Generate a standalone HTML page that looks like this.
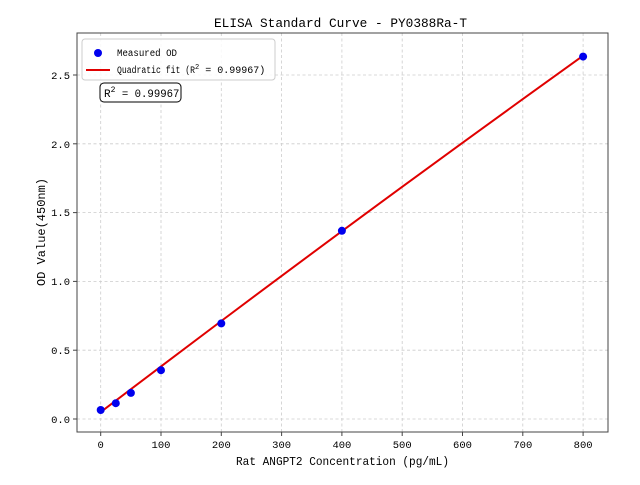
<!DOCTYPE html>
<html><head><meta charset="utf-8"><style>
body{margin:0;background:#fff}
text{font-family:"Liberation Mono","WenQuanYi Zen Hei",monospace;fill:#000}
</style></head><body>
<svg width="640" height="480" xmlns="http://www.w3.org/2000/svg">
<rect width="640" height="480" fill="#fff"/>
<g stroke="#ccc" stroke-width="0.8" stroke-dasharray="3,2.5">
<line x1="100.7" y1="33" x2="100.7" y2="432"/><line x1="161" y1="33" x2="161" y2="432"/>
<line x1="221.3" y1="33" x2="221.3" y2="432"/><line x1="281.6" y1="33" x2="281.6" y2="432"/>
<line x1="341.9" y1="33" x2="341.9" y2="432"/><line x1="402.2" y1="33" x2="402.2" y2="432"/>
<line x1="462.5" y1="33" x2="462.5" y2="432"/><line x1="522.8" y1="33" x2="522.8" y2="432"/>
<line x1="583.1" y1="33" x2="583.1" y2="432"/>
<line x1="77" y1="419" x2="608" y2="419"/><line x1="77" y1="350.2" x2="608" y2="350.2"/>
<line x1="77" y1="281.4" x2="608" y2="281.4"/><line x1="77" y1="212.6" x2="608" y2="212.6"/>
<line x1="77" y1="143.8" x2="608" y2="143.8"/><line x1="77" y1="75" x2="608" y2="75"/>
</g>
<rect x="77" y="33" width="531" height="399" fill="none" stroke="#444" stroke-width="1"/>
<g stroke="#444">
<line x1="100.7" y1="432" x2="100.7" y2="436"/><line x1="161" y1="432" x2="161" y2="436"/>
<line x1="221.3" y1="432" x2="221.3" y2="436"/><line x1="281.6" y1="432" x2="281.6" y2="436"/>
<line x1="341.9" y1="432" x2="341.9" y2="436"/><line x1="402.2" y1="432" x2="402.2" y2="436"/>
<line x1="462.5" y1="432" x2="462.5" y2="436"/><line x1="522.8" y1="432" x2="522.8" y2="436"/>
<line x1="583.1" y1="432" x2="583.1" y2="436"/>
<line x1="73" y1="419" x2="77" y2="419"/><line x1="73" y1="350.2" x2="77" y2="350.2"/>
<line x1="73" y1="281.4" x2="77" y2="281.4"/><line x1="73" y1="212.6" x2="77" y2="212.6"/>
<line x1="73" y1="143.8" x2="77" y2="143.8"/><line x1="73" y1="75" x2="77" y2="75"/>
</g>
<g font-size="10.5" text-anchor="middle">
<text x="100.7" y="448">0</text><text x="161" y="448">100</text><text x="221.3" y="448">200</text>
<text x="281.6" y="448">300</text><text x="341.9" y="448">400</text><text x="402.2" y="448">500</text>
<text x="462.5" y="448">600</text><text x="522.8" y="448">700</text><text x="583.1" y="448">800</text>
</g>
<g font-size="10.5" text-anchor="end">
<text x="70" y="423">0.0</text><text x="70" y="354">0.5</text><text x="70" y="285">1.0</text>
<text x="70" y="216">1.5</text><text x="70" y="148">2.0</text><text x="70" y="79">2.5</text>
</g>
<text x="236" y="465" font-size="12" textLength="213" lengthAdjust="spacingAndGlyphs">Rat ANGPT2 Concentration (pg/mL)</text>
<text transform="translate(45,232) rotate(-90)" font-size="12" text-anchor="middle">OD Value(450nm)</text>
<text x="214" y="27" font-size="13" textLength="253" lengthAdjust="spacingAndGlyphs">ELISA Standard Curve - PY0388Ra-T</text>
<polyline fill="none" stroke="#e00000" stroke-width="2" points="100.7,412.1 161,366.4 221.3,321 281.6,275.9 341.9,231.2 402.2,186.8 462.5,142.8 522.8,99.1 583.1,55.7"/>
<g fill="#0000ee">
<circle cx="100.7" cy="410" r="4"/><circle cx="115.8" cy="403.2" r="4"/><circle cx="130.9" cy="392.9" r="4"/>
<circle cx="161" cy="370.2" r="4"/><circle cx="221.3" cy="323.4" r="4"/><circle cx="341.9" cy="230.8" r="4"/>
<circle cx="583.1" cy="56.6" r="4"/>
</g>
<rect x="82" y="39" width="193" height="41" rx="3" fill="#fff" fill-opacity="0.85" stroke="#ccc"/>
<circle cx="98" cy="53" r="4" fill="#0000ee"/>
<text x="117" y="56" font-size="10" textLength="60" lengthAdjust="spacingAndGlyphs">Measured OD</text>
<line x1="86" y1="70" x2="110" y2="70" stroke="#e00000" stroke-width="2"/>
<text x="117" y="73" font-size="10"><tspan textLength="78" lengthAdjust="spacingAndGlyphs">Quadratic fit (R</tspan><tspan font-size="7" dy="-4">2</tspan><tspan dy="4" textLength="66" lengthAdjust="spacingAndGlyphs"> = 0.99967)</tspan></text>
<rect x="100" y="83" width="81" height="19" rx="4" fill="#fff" stroke="#000"/>
<text x="104" y="97" font-size="11">R<tspan font-size="8" dy="-5">2</tspan><tspan dy="5" textLength="64" lengthAdjust="spacingAndGlyphs"> = 0.99967</tspan></text>
</svg>
</body></html>
